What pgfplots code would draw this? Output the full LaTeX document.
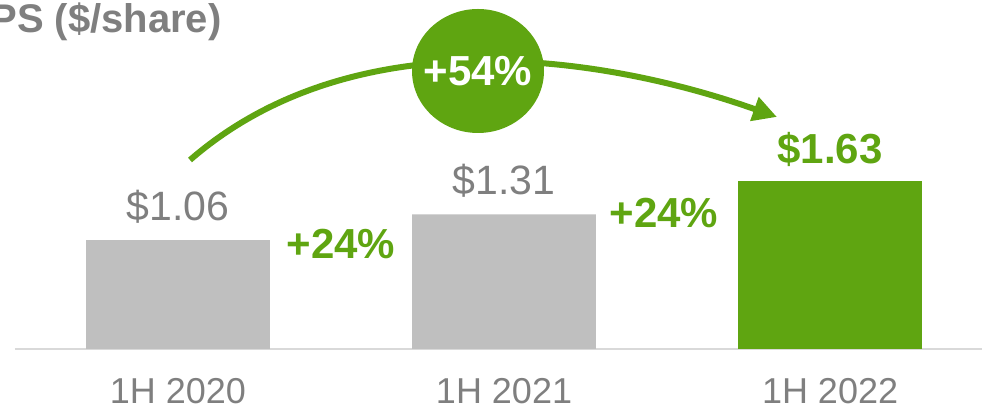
\documentclass[border=0pt]{standalone}
\usepackage{pgfplots}
\pgfplotsset{compat=1.18}
\usepackage{fontspec}
\setmainfont{Liberation Sans}
\usetikzlibrary{arrows.meta}
\definecolor{nvgreen}{HTML}{5FA511}
\definecolor{bargray}{HTML}{BFBFBF}
\definecolor{txtgray}{HTML}{7F7F7F}
\definecolor{basegray}{HTML}{D9D9D9}
\begin{document}
\begin{tikzpicture}[x=1pt,y=1pt]
\useasboundingbox (0,0) rectangle (491,205.5);
\begin{axis}[
  at={(7.5pt,31pt)}, anchor=south west,
  scale only axis, width=483.5pt, height=174.5pt,
  xmin=-0.5, xmax=2.466, ymin=0, ymax=3.395,
  axis line style={draw=none},
  ytick=\empty,
  xtick={0,1,2}, xticklabels={1H 2020,1H 2021,1H 2022},
  major tick length=0pt,
  xticklabel style={font=\fontsize{18}{18}\selectfont, text=txtgray, anchor=base, yshift=-27.5pt},
  /pgf/number format/assume math mode=true,
  ybar, bar width=0.564, bar shift=0pt,
  clip=false,
]
\draw[basegray, line width=1pt] (axis cs:-0.5,0) -- (axis cs:2.466,0);
\addplot[fill=bargray, draw=none,
  nodes near coords={\$\pgfmathprintnumber[fixed,fixed zerofill,precision=2]{\pgfplotspointmeta}},
  nodes near coords style={anchor=base, yshift=10pt, inner sep=0pt, text=txtgray, font=\fontsize{20.5}{20.5}\selectfont}]
  coordinates {(0,1.06) (1,1.31)};
\addplot[fill=nvgreen, draw=none,
  nodes near coords={\$\pgfmathprintnumber[fixed,fixed zerofill,precision=2]{\pgfplotspointmeta}},
  nodes near coords style={anchor=base, yshift=9.2pt, inner sep=0pt, text=nvgreen, font=\fontsize{21}{21}\selectfont\bfseries}]
  coordinates {(2,1.63)};
\node[anchor=base, inner sep=0pt, text=nvgreen, font=\fontsize{21}{21}\selectfont\bfseries] at (axis cs:0.5,0.878) {+24\%};
\node[anchor=base, inner sep=0pt, text=nvgreen, font=\fontsize{21}{21}\selectfont\bfseries] at (axis cs:1.49,1.18) {+24\%};
\end{axis}
\node[anchor=base east, inner sep=0pt, text=txtgray, font=\fontsize{20}{20}\selectfont\bfseries] at (111,189) {EPS (\$/share)};
\draw[nvgreen, line width=3pt, -{Triangle[length=12pt,width=12pt]}] (95,125.5) .. controls (175.9,195.8) and (298.9,178.7) .. (388.5,147);
\fill[nvgreen] (239,170) ellipse [x radius=33pt, y radius=31pt];
\node[anchor=base, inner sep=0pt, text=white, font=\fontsize{21}{21}\selectfont\bfseries] at (239,162.5) {+54\%};
\end{tikzpicture}
\end{document}
